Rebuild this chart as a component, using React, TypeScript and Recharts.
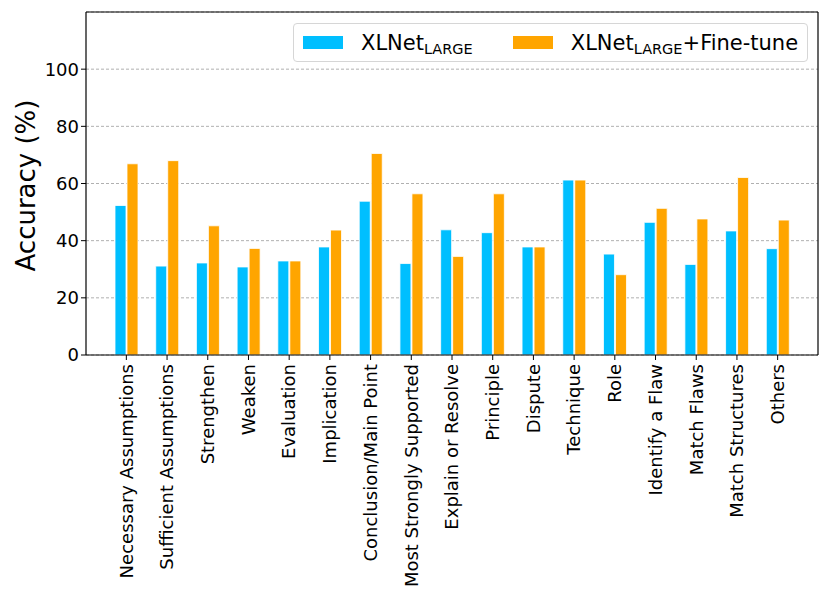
import React from 'react'
import {
  BarChart, Bar, XAxis, YAxis, CartesianGrid,
} from 'recharts'

const categories = [
  'Necessary Assumptions', 'Sufficient Assumptions', 'Strengthen', 'Weaken',
  'Evaluation', 'Implication', 'Conclusion/Main Point', 'Most Strongly Supported',
  'Explain or Resolve', 'Principle', 'Dispute', 'Technique', 'Role',
  'Identify a Flaw', 'Match Flaws', 'Match Structures', 'Others',
]
const xlnetLarge = [52.3, 31.1, 32.2, 30.8, 32.9, 37.8, 53.8, 32.0, 43.8, 42.8, 37.8, 61.2, 35.3, 46.4, 31.7, 43.4, 37.2]
const xlnetFineTune = [66.9, 68.0, 45.2, 37.3, 32.9, 43.7, 70.5, 56.4, 34.5, 56.4, 37.8, 61.2, 28.1, 51.3, 47.6, 62.1, 47.2]
const yTicks = [0, 20, 40, 60, 80, 100]

const BLUE = '#00bfff'
const ORANGE = '#ffa500'
const FONT = '"DejaVu Sans", sans-serif'

const data = categories.map((name, i) => ({
  name,
  base: xlnetLarge[i],
  tuned: xlnetFineTune[i],
}))

function XTick({ x, y, payload }: { x?: number; y?: number; payload?: { value: string } }) {
  return (
    <text
      transform={`translate(${x},${(y ?? 0) + 2}) rotate(-90)`}
      textAnchor="end" dy="0.35em"
      fontSize={18} fontFamily={FONT} fill="#000"
    >{payload?.value}</text>
  )
}

function YLabel({ viewBox }: { viewBox?: { x: number; y: number; width: number; height: number } }) {
  if (!viewBox) return null
  const cx = viewBox.x + 26
  const cy = viewBox.y + viewBox.height / 2 + 2
  return (
    <text x={cx} y={cy} transform={`rotate(-90 ${cx} ${cy})`} textAnchor="middle" dy="0.35em"
      fontSize={26} fontFamily={FONT} fill="#000">Accuracy (%)</text>
  )
}

function LegendBox() {
  const item = (color: string, extra: string) => (
    <div style={{ display: 'flex', alignItems: 'center' }}>
      <div style={{ width: 40, height: 13, background: color, marginRight: 18 }} />
      <span style={{ fontSize: 21, fontFamily: FONT, color: '#000', whiteSpace: 'nowrap', lineHeight: '24px' }}>
        XLNet<sub style={{ fontSize: 14.5, verticalAlign: '-4px', lineHeight: 0 }}>LARGE</sub>{extra}
      </span>
    </div>
  )
  return (
    <div style={{
      position: 'absolute', left: 293, top: 23, boxSizing: 'border-box', width: 515, height: 39,
      display: 'flex', alignItems: 'center', gap: 40, padding: '0 0 0 9px',
      border: '1px solid #d6d6d6', borderRadius: 4, background: 'rgba(255,255,255,0.8)',
    }}>
      {item(BLUE, '')}
      {item(ORANGE, '+Fine-tune')}
    </div>
  )
}

export default function App() {
  return (
    <div style={{ position: 'absolute', left: 0, top: 0, width: 830, height: 606, background: '#fff' }}>
      <BarChart
        width={830} height={606} data={data}
        margin={{ top: 11, right: 11, left: 0, bottom: 0 }}
        barSize={11} barGap={1}
      >
        <CartesianGrid vertical={false} stroke="#b0b0b0" strokeDasharray="3 2" />
        <XAxis
          dataKey="name" height={251} interval={0}
          padding={{ left: 20, right: 20 }}
          tick={<XTick />}
          tickLine={{ stroke: '#000' }} tickSize={5}
          axisLine={{ stroke: '#000', strokeWidth: 1.2 }}
        />
        <XAxis xAxisId="top" orientation="top" dataKey="name" height={1} tick={false} tickLine={false}
          axisLine={{ stroke: '#000', strokeWidth: 1.2 }} />
        <YAxis
          width={86} domain={[0, 120]} ticks={yTicks} interval={0}
          tick={{ fontSize: 18, fontFamily: FONT, fill: '#000' }}
          tickLine={{ stroke: '#000' }} tickSize={5}
          axisLine={{ stroke: '#000', strokeWidth: 1.2 }}
          label={<YLabel />}
        />
        <YAxis yAxisId="right" orientation="right" width={1} domain={[0, 120]} tick={false} tickLine={false}
          axisLine={{ stroke: '#000', strokeWidth: 1.2 }} />
        <Bar dataKey="base" fill={BLUE} stroke="#fff" strokeWidth={0.8} isAnimationActive={false} />
        <Bar dataKey="tuned" fill={ORANGE} stroke="#fff" strokeWidth={0.8} isAnimationActive={false} />
      </BarChart>
      <LegendBox />
    </div>
  )
}
